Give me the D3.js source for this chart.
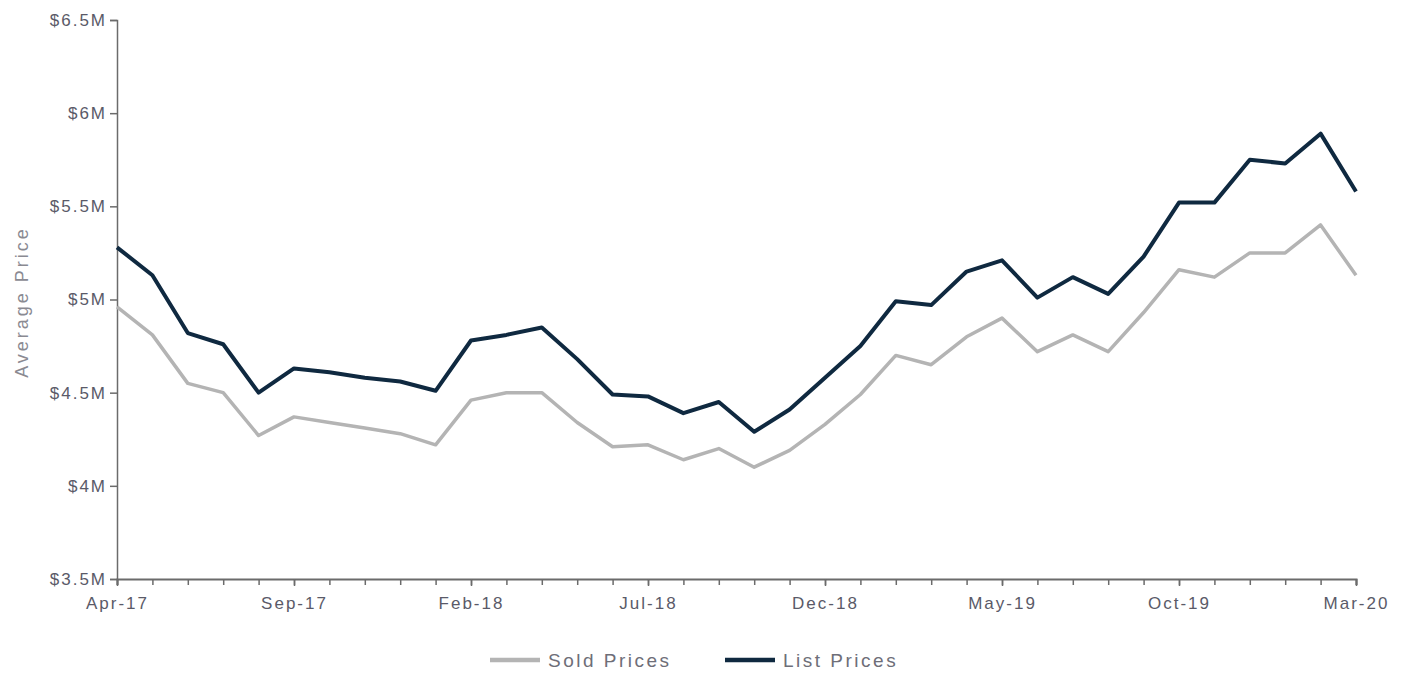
<!DOCTYPE html>
<html>
<head>
<meta charset="utf-8">
<script src="https://cdn.jsdelivr.net/npm/d3@7"></script>
<style>
  body { margin: 0; background: #fff; }
  #chart text { font-family: "Liberation Sans", Arial, sans-serif; }
</style>
</head>
<body>
<div id="chart"></div>
<script>
// month labels Apr-17 .. Mar-20
const months = [
  "Apr-17","May-17","Jun-17","Jul-17","Aug-17","Sep-17","Oct-17","Nov-17","Dec-17","Jan-18","Feb-18","Mar-18",
  "Apr-18","May-18","Jun-18","Jul-18","Aug-18","Sep-18","Oct-18","Nov-18","Dec-18","Jan-19","Feb-19","Mar-19",
  "Apr-19","May-19","Jun-19","Jul-19","Aug-19","Sep-19","Oct-19","Nov-19","Dec-19","Jan-20","Feb-20","Mar-20"
];
const labelMonths = ["Apr-17","Sep-17","Feb-18","Jul-18","Dec-18","May-19","Oct-19","Mar-20"];

// values in $M
const soldPrices = [
  4.96, 4.81, 4.55, 4.50, 4.27, 4.37, 4.34, 4.31, 4.28, 4.22, 4.46, 4.50,
  4.50, 4.34, 4.21, 4.22, 4.14, 4.20, 4.10, 4.19, 4.33, 4.49, 4.70, 4.65,
  4.80, 4.90, 4.72, 4.81, 4.72, 4.93, 5.16, 5.12, 5.25, 5.25, 5.40, 5.13
];
const listPrices = [
  5.28, 5.13, 4.82, 4.76, 4.50, 4.63, 4.61, 4.58, 4.56, 4.51, 4.78, 4.81,
  4.85, 4.68, 4.49, 4.48, 4.39, 4.45, 4.29, 4.41, 4.58, 4.75, 4.99, 4.97,
  5.15, 5.21, 5.01, 5.12, 5.03, 5.23, 5.52, 5.52, 5.75, 5.73, 5.89, 5.58
];
const yTicks = [3.5, 4, 4.5, 5, 5.5, 6, 6.5];

const series = [
  { name: "Sold Prices", values: soldPrices, color: "#b4b4b4", width: 3.5 },
  { name: "List Prices", values: listPrices, color: "#0f2940", width: 4 }
];

const W = 1408, H = 673;
const margin = { top: 20, right: 52, bottom: 94, left: 117 };
const width = W - margin.left - margin.right;
const height = H - margin.top - margin.bottom;

const svg = d3.select("#chart").append("svg")
  .attr("width", W).attr("height", H);
const g = svg.append("g")
  .attr("transform", "translate(" + margin.left + "," + margin.top + ")");

const x = d3.scalePoint().domain(months).range([0, width]);
const y = d3.scaleLinear().domain([3.5, 6.5]).range([height, 0]);

// y axis
const yAxis = g.append("g")
  .call(d3.axisLeft(y).tickValues(yTicks).tickSize(7).tickPadding(3)
    .tickFormat(d => "$" + d + "M"));
yAxis.select(".domain").attr("stroke", "#6b6b6b").attr("stroke-width", 1.5);
yAxis.selectAll(".tick line").attr("stroke", "#6b6b6b").attr("stroke-width", 1.5);
yAxis.selectAll("text").attr("fill", "#5a5a68")
  .style("font-size", "17px").style("letter-spacing", "2px");

// x axis: minor ticks every month
const xMinor = g.append("g")
  .attr("transform", "translate(0," + height + ")")
  .call(d3.axisBottom(x).tickSize(6).tickFormat(""));
xMinor.select(".domain").attr("stroke", "#6b6b6b").attr("stroke-width", 2);
xMinor.selectAll(".tick line").attr("stroke", "#6b6b6b").attr("stroke-width", 1.5);

const xAxis = g.append("g")
  .attr("transform", "translate(0," + height + ")")
  .call(d3.axisBottom(x).tickValues(labelMonths).tickSize(7).tickPadding(11));
xAxis.select(".domain").remove();
xAxis.selectAll(".tick line").attr("stroke", "#6b6b6b").attr("stroke-width", 1.5);
xAxis.selectAll("text").attr("fill", "#5a5a68")
  .style("font-size", "17px").style("letter-spacing", "2px");

// y title
g.append("text")
  .attr("transform", "rotate(-90)")
  .attr("x", -282)
  .attr("y", -89)
  .attr("text-anchor", "middle")
  .attr("fill", "#8a8a92")
  .style("font-size", "18px")
  .style("letter-spacing", "3px")
  .text("Average Price");

// lines
const line = d3.line()
  .x((d, i) => x(months[i]))
  .y(d => y(d));

g.selectAll(".series")
  .data(series)
  .enter().append("path")
  .attr("class", "series")
  .attr("fill", "none")
  .attr("stroke", d => d.color)
  .attr("stroke-width", d => d.width)
  .attr("stroke-linejoin", "round")
  .attr("d", d => line(d.values));

// legend
const legend = svg.append("g").attr("transform", "translate(490,660)");
const legendX = [0, 235];
series.forEach((s, i) => {
  const lg = legend.append("g").attr("transform", "translate(" + legendX[i] + ",0)");
  lg.append("line")
    .attr("x1", 0).attr("x2", 50).attr("y1", 0).attr("y2", 0)
    .attr("stroke", s.color).attr("stroke-width", 4.5);
  lg.append("text")
    .attr("x", 58).attr("y", 7)
    .attr("fill", "#6e6e78")
    .style("font-size", "19px")
    .style("letter-spacing", "2.5px")
    .text(s.name);
});
</script>
</body>
</html>
